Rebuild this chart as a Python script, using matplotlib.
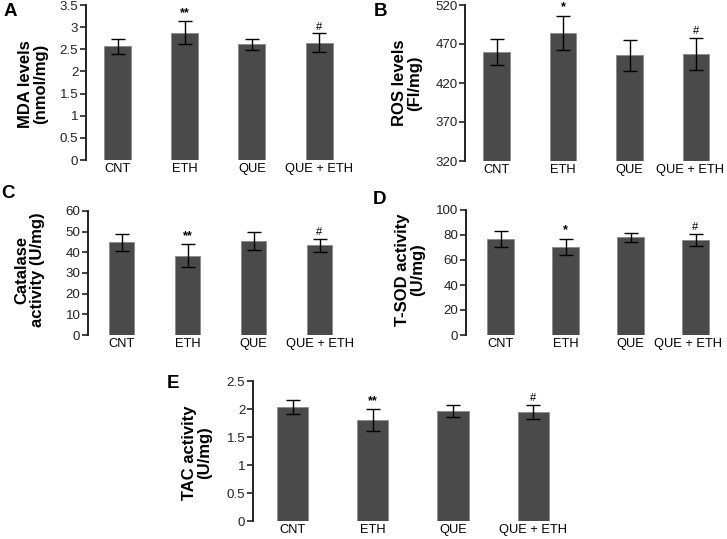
import matplotlib
matplotlib.use("Agg")
import matplotlib.pyplot as plt
import matplotlib.transforms as mtransforms
import numpy as np

plt.rcParams['font.family'] = ['Liberation Sans', 'DejaVu Sans']

groups = ["CNT", "ETH", "QUE", "QUE + ETH"]

mda = [2.57, 2.875, 2.61, 2.65]
mda_err = [0.17, 0.26, 0.13, 0.21]
mda_marks = ["", "**", "", "#"]

ros = [459.7, 484.5, 455.5, 456.8]
ros_err = [17, 22, 20, 20.5]
ros_marks = ["", "*", "", "#"]

cat = [44.8, 38.4, 45.3, 43.4]
cat_err = [4.2, 5.5, 4.3, 3.0]
cat_marks = ["", "**", "", "#"]

sod = [77.1, 70.4, 78.1, 76.0]
sod_err = [6.4, 6.6, 3.5, 4.5]
sod_marks = ["", "*", "", "#"]

tac = [2.035, 1.805, 1.965, 1.955]
tac_err = [0.12, 0.19, 0.11, 0.125]
tac_marks = ["", "**", "", "#"]

W, H = 727, 539
fig = plt.figure(figsize=(W / 100, H / 100), dpi=100)

BAR = "#4a4a4a"


def panel(left, top, bottom, spacing, offset, width_frac, vals, errs, marks,
          ylim, yticks, ylabel, lab_xy, letter, letter_xy, mark_pad,
          last_shift=0):
    x0 = -offset / spacing
    x1 = 3.5
    wpx = (x1 - x0) * spacing
    ax = fig.add_axes([left / W, 1 - bottom / H, wpx / W, (bottom - top) / H])
    x = np.arange(len(groups))
    ax.bar(x, vals, width=width_frac, color=BAR, edgecolor="#8a8a8a",
           linewidth=0.6, zorder=2)
    ax.errorbar(x, vals, yerr=errs, fmt="none", ecolor="black",
                elinewidth=1.0, capsize=5.3, capthick=1.0, zorder=3)
    for xi, v, e, m in zip(x, vals, errs, marks):
        if m:
            ax.text(xi, v + e + mark_pad, m, ha="center", va="bottom",
                    fontsize=8 if m == "#" else 9,
                    fontweight="bold" if m != "#" else "normal")
    ax.set_xlim(x0, x1)
    ax.set_ylim(*ylim)
    ax.set_yticks(yticks)
    ax.set_yticklabels([("%g" % t) for t in yticks])
    ax.set_xticks(x)
    ax.set_xticklabels(groups)
    for s in ("top", "right", "bottom"):
        ax.spines[s].set_visible(False)
    ax.spines["left"].set_linewidth(1.4)
    ax.spines["left"].set_color("#222222")
    ax.tick_params(axis="y", direction="out", length=4, width=1.2,
                   labelsize=9.6, pad=1.5, colors="#222222")
    ax.tick_params(axis="x", length=0, labelsize=9.3, pad=2.5)
    if last_shift:
        lab = ax.get_xticklabels()[-1]
        lab.set_transform(lab.get_transform() +
                          mtransforms.ScaledTranslation(last_shift / 100, 0,
                                                        fig.dpi_scale_trans))
    fig.text(lab_xy[0] / W, 1 - lab_xy[1] / H, ylabel, rotation=90,
             ha="center", va="center", fontsize=12, fontweight="bold",
             multialignment="center", linespacing=1.05)
    fig.text(letter_xy[0] / W, 1 - letter_xy[1] / H, letter, ha="center",
             va="center", fontsize=13.5, fontweight="bold")
    return ax


panel(86, 5, 160, 67.2, 31.5, 0.40, mda, mda_err, mda_marks,
      (0, 3.5), [0, 0.5, 1, 1.5, 2, 2.5, 3, 3.5],
      "MDA levels\n(nmol/mg)", (33, 84), "A", (10, 12), 0.04)

panel(465, 5, 161, 66.5, 31.5, 0.40, ros, ros_err, ros_marks,
      (320, 520), [320, 370, 420, 470, 520],
      "ROS levels\n(FI/mg)", (407, 83), "B", (381, 12), 3, last_shift=-6)

panel(88, 211, 335, 66, 33.5, 0.39, cat, cat_err, cat_marks,
      (0, 60), [0, 10, 20, 30, 40, 50, 60],
      "Catalase\nactivity (U/mg)", (30, 270), "C", (8, 193), 1)

panel(466, 210, 335, 65, 34.5, 0.41, sod, sod_err, sod_marks,
      (0, 100), [0, 20, 40, 60, 80, 100],
      "T-SOD activity\n(U/mg)", (410, 270), "D", (379, 199), 2, last_shift=-7)

panel(253, 381, 521, 80.3, 39.5, 0.39, tac, tac_err, tac_marks,
      (0, 2.5), [0, 0.5, 1, 1.5, 2, 2.5],
      "TAC activity\n(U/mg)", (197, 453), "E", (173, 384), 0.03)

fig.savefig("out.png", dpi=100)
